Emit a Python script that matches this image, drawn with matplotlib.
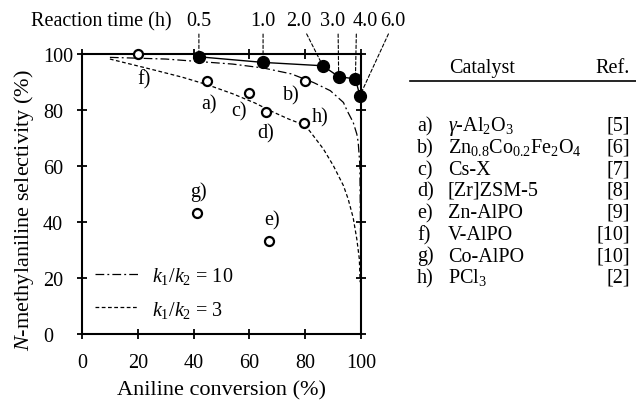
import matplotlib
matplotlib.use("Agg")
import matplotlib.pyplot as plt
from matplotlib.lines import Line2D

plt.rcParams['font.family'] = ['Liberation Serif', 'DejaVu Serif']
plt.rcParams['mathtext.fontset'] = 'custom'
plt.rcParams['mathtext.rm'] = 'Liberation Serif'
plt.rcParams['mathtext.it'] = 'Liberation Serif:italic'

# reaction time series (filled circles)
time_labels = ['0.5', '1.0', '2.0', '3.0', '4.0', '6.0']
time_conv = [41.9, 64.9, 86.3, 92.0, 98.0, 99.6]
time_sel = [99.0, 97.0, 95.8, 91.9, 91.1, 85.1]

# literature catalysts (open circles)
cat_labels = ['a)', 'b)', 'c)', 'd)', 'e)', 'f)', 'g)', 'h)']
cat_conv = [44.9, 79.9, 59.9, 65.8, 67.0, 20.2, 41.1, 79.7]
cat_sel = [90.2, 90.2, 86.0, 79.2, 33.3, 100.0, 43.2, 75.2]

# model curves
k10_conv = [10, 30, 54, 65, 75, 83, 89, 93.7, 95.0, 97.2, 98.5, 99.0, 99.6, 99.8, 99.9]
k10_sel = [98.8, 98.2, 96.4, 95.0, 92.9, 89.8, 86.9, 82.7, 79.8, 75.6, 71.4, 68.5, 60.1, 40.0, 18.0]
k3_conv = [10, 25, 36, 45, 54, 62, 68, 74, 80, 82, 86.5, 90.1, 93.7, 95.4, 97.2, 98.5, 99.4, 99.7]
k3_sel = [98.2, 94.5, 91.7, 89.0, 85.8, 82.5, 79.5, 76.8, 74.5, 72.0, 66.1, 60.1, 53.0, 48.2, 41.5, 33.9, 26.8, 18.5]

# table on the right
tab_letters = ['a)', 'b)', 'c)', 'd)', 'e)', 'f)', 'g)', 'h)']
tab_names = [r'$\gamma$-Al$_2$O$_3$', r'Zn$_{0.8}$Co$_{0.2}$Fe$_2$O$_4$', 'Cs-X', '[Zr]ZSM-5',
             'Zn-AlPO', 'V-AlPO', 'Co-AlPO', r'PCl$_3$']
tab_refs = ['[5]', '[6]', '[7]', '[8]', '[9]', '[10]', '[10]', '[2]']

# label placement (offset points) for catalyst labels
cat_offsets = [(1, -16), (-10, -10), (-7, -13), (0, -15), (2, 15), (4, -18), (1, 16), (11, 5)]
# time label x shift (data units) and leader attachment
time_shift = [0, 0, -8.5, -2.2, 3.7, 11.9]
time_relpos = [0.5, 0.5, 0.72, 0.72, 0.13, 0.39]

fs = 14.5
fig = plt.figure(figsize=(6.36, 4.02), dpi=100)
ax = fig.add_axes([82 / 636, 1 - 335 / 402, 279 / 636, 280 / 402])

ax.plot(k10_conv, k10_sel, color='black', lw=0.9, ls=(0, (7, 2.5, 1.5, 2.5)),
        label=r'$k_1/k_2$ = 10', zorder=2)
ax.plot(k3_conv, k3_sel, color='black', lw=0.9, ls=(0, (3, 2)),
        label=r'$k_1/k_2$ = 3', zorder=2)
ax.plot(time_conv, time_sel, color='black', lw=1.0, marker='o', ms=8.5,
        mfc='black', mec='black', zorder=4, clip_on=False)
ax.plot(cat_conv, cat_sel, ls='none', marker='o', ms=6.5, mfc='white',
        mec='black', mew=1.6, zorder=5, clip_on=False)

for lab, x, y, off in zip(cat_labels, cat_conv, cat_sel, cat_offsets):
    ax.annotate(lab, (x, y), xytext=off, textcoords='offset points',
                ha='center', va='center', fontsize=fs)

for lab, x, y, dx, rp in zip(time_labels, time_conv, time_sel, time_shift, time_relpos):
    ax.annotate(lab, (x, y), xytext=(x + dx, 1.12), textcoords=ax.get_xaxis_transform(),
                ha='center', va='center', fontsize=fs, annotation_clip=False,
                arrowprops=dict(arrowstyle='-', ls=(0, (3, 2)), lw=0.8, color='black',
                                shrinkA=1, shrinkB=0, relpos=(rp, 0)))
fig.text(101 / 636, 1 - 21.5 / 402, 'Reaction time (h)', ha='center', va='center', fontsize=fs)

ax.set_xlim(0, 100)
ax.set_ylim(0, 100)
ax.set_xticks(range(0, 101, 20))
ax.set_yticks(range(0, 101, 20))
ax.tick_params(direction='inout', length=7, width=1.3, top=True, right=True, labelsize=fs)
ax.tick_params(axis='x', pad=10)
ax.tick_params(axis='y', pad=24.5)
for t in ax.get_yticklabels():
    t.set_ha('left')
for s in ax.spines.values():
    s.set_linewidth(1.5)

ax.set_xlabel('Aniline conversion (%)', fontsize=16)
ax.set_ylabel(r'$N$-methylaniline selectivity (%)', fontsize=16)
ax.xaxis.set_label_coords(0.5, -0.164)
ax.yaxis.set_label_coords(-0.165, 0.446)

ax.legend(loc='center left', bbox_to_anchor=(0.047, 0.149), frameon=False,
          fontsize=fs, handlelength=2.14, handletextpad=0.7, borderpad=0,
          borderaxespad=0, labelspacing=0.62)

# table (baselines in pixels from the top)
fig.text(449 / 636, 1 - 72.7 / 402, 'Catalyst', ha='left', va='baseline', fontsize=fs)
fig.text(630 / 636, 1 - 72.7 / 402, 'Ref.', ha='right', va='baseline', fontsize=fs)
fig.add_artist(Line2D([410 / 636, 1.0], [1 - 82 / 402] * 2, color='black', lw=1.2))
row_y = [131, 153, 175, 196, 218, 240, 261.5, 283]
for yy, let, name, ref in zip(row_y, tab_letters, tab_names, tab_refs):
    fig.text(417 / 636, 1 - yy / 402, let, ha='left', va='baseline', fontsize=fs)
    fig.text(448 / 636, 1 - yy / 402, name, ha='left', va='baseline', fontsize=fs)
    fig.text(630 / 636, 1 - yy / 402, ref, ha='right', va='baseline', fontsize=fs)

fig.savefig('out.png', dpi=100)
